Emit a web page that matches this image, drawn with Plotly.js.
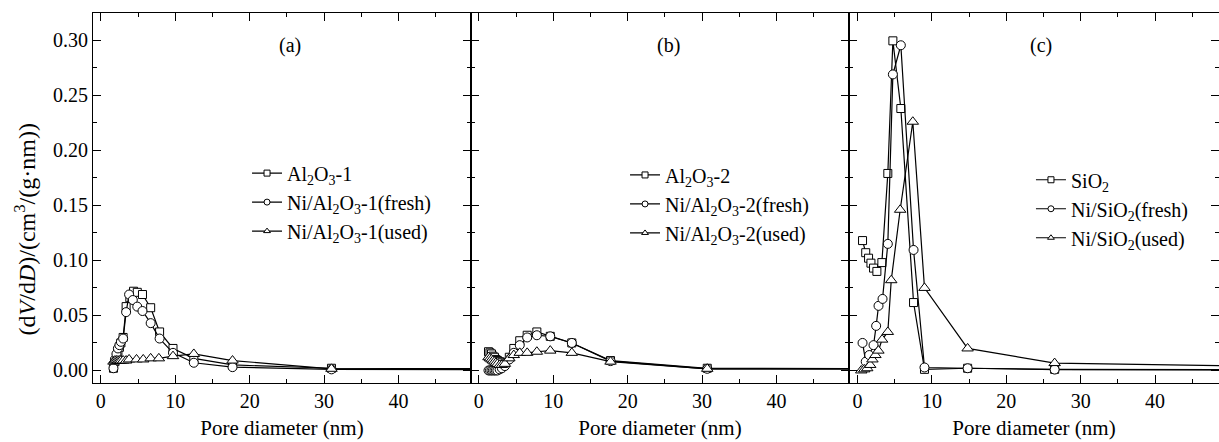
<!DOCTYPE html>
<html><head><meta charset="utf-8">
<script src="https://cdn.plot.ly/plotly-3.0.1.min.js"></script>
<style>
html,body{margin:0;padding:0;background:#fff;}
#chart{width:1219px;height:442px;}
</style>
</head><body><div id="chart"></div>
<script>
// Panel (a)
const aSqX = [1.7,1.9,2.1,2.3,2.5,2.7,3.0,3.4,3.9,4.4,4.9,5.6,6.7,7.9,9.7,12.5,17.7,31.0,80];
const aSqY = [0.002,0.008,0.012,0.017,0.021,0.025,0.030,0.058,0.066,0.072,0.071,0.069,0.057,0.035,0.020,0.011,0.005,0.002,0.001];
const aCiX = [1.7,1.9,2.1,2.3,2.5,2.7,3.0,3.4,3.8,4.3,4.9,5.6,6.7,7.9,9.7,12.5,17.7,31.0,80];
const aCiY = [0.002,0.010,0.015,0.020,0.023,0.026,0.029,0.053,0.069,0.064,0.058,0.054,0.043,0.029,0.016,0.007,0.003,0.001,0.0005];
const aTrX = [1.7,1.9,2.1,2.3,2.5,2.7,3.0,3.4,3.8,4.8,5.7,6.7,7.8,9.7,12.5,17.7,31.0,80];
const aTrY = [0.008,0.009,0.009,0.009,0.009,0.009,0.009,0.009,0.010,0.010,0.010,0.011,0.011,0.013,0.015,0.009,0.0015,0.001];
// Panel (b)
const bX   = [1.3,1.5,1.7,1.9,2.1,2.3,2.5,2.8,3.1,3.5,4.1,4.7,5.5,6.5,7.8,9.6,12.5,17.7,30.7,80];
const bSqY = [0.017,0.016,0.015,0.013,0.012,0.010,0.009,0.008,0.007,0.006,0.012,0.020,0.027,0.032,0.035,0.031,0.025,0.009,0.002,0.001];
const bCiY = [0.000,0.000,0.000,0.000,0.000,0.000,0.000,0.001,0.002,0.004,0.010,0.016,0.023,0.030,0.032,0.031,0.025,0.0085,0.0015,0.001];
const bTrY = [0.012,0.011,0.010,0.009,0.008,0.007,0.006,0.005,0.005,0.006,0.011,0.014,0.016,0.016,0.017,0.018,0.016,0.008,0.0015,0.001];
// Panel (c)
const cSqX = [0.67,1.1,1.48,1.8,2.15,2.6,3.27,4.07,4.75,5.82,7.53,9.0,14.8,26.5,80];
const cSqY = [0.118,0.107,0.102,0.0975,0.093,0.090,0.098,0.179,0.2995,0.238,0.0617,0.001,0.002,0.001,0.0003];
const cCiX = [0.67,1.1,1.57,2.15,2.5,2.82,3.36,4.07,4.75,5.82,7.53,9.0,14.8,26.5,80];
const cCiY = [0.025,0.008,0.014,0.023,0.0405,0.0587,0.065,0.115,0.269,0.2955,0.1095,0.0027,0.002,0.0008,0.0003];
const cTrX = [0.5,0.9,1.3,1.7,2.0,2.4,2.8,3.3,4.07,4.53,5.73,7.43,9.0,14.8,26.5,80];
const cTrY = [0.0,0.001,0.002,0.005,0.010,0.014,0.018,0.028,0.035,0.082,0.146,0.226,0.075,0.020,0.0067,0.001];

const legA = ['Al<sub>2</sub>O<sub>3</sub>-1','Ni/Al<sub>2</sub>O<sub>3</sub>-1(fresh)','Ni/Al<sub>2</sub>O<sub>3</sub>-1(used)'];
const legB = ['Al<sub>2</sub>O<sub>3</sub>-2','Ni/Al<sub>2</sub>O<sub>3</sub>-2(fresh)','Ni/Al<sub>2</sub>O<sub>3</sub>-2(used)'];
const legC = ['SiO<sub>2</sub>','Ni/SiO<sub>2</sub>(fresh)','Ni/SiO<sub>2</sub>(used)'];
const panelLabels = ['(a)','(b)','(c)'];
const xTitle = 'Pore diameter (nm)';
const yTitle = '(d<i>V</i>/d<i>D</i>)/(cm<sup>3</sup>/(g·nm))';

const symbols = ['square','circle','triangle-up'];
const sizes = [8,9,10];
const SERIF = 'Liberation Serif';

function mkTrace(x, y, k, xa, ya) {
  return {x:x, y:y, xaxis:xa, yaxis:ya, type:'scatter', mode:'lines+markers', showlegend:false,
    line:{color:'black', width:1.2},
    marker:{symbol:symbols[k], size:sizes[k], color:'white', line:{color:'black', width:1}}};
}
function mkLeg(name, k, leg, xa, ya) {
  return {x:[null], y:[null], xaxis:xa, yaxis:ya, type:'scatter', mode:'lines+markers', name:name, legend:leg,
    line:{color:'black', width:1.2},
    marker:{symbol:symbols[k], size:6, color:'white', line:{color:'black', width:1}}};
}

const data = [
  mkTrace(aSqX,aSqY,0,'x','y'), mkTrace(aCiX,aCiY,1,'x','y'), mkTrace(aTrX,aTrY,2,'x','y'),
  mkTrace(bX,bSqY,0,'x2','y2'), mkTrace(bX,bCiY,1,'x2','y2'), mkTrace(bX,bTrY,2,'x2','y2'),
  mkTrace(cSqX,cSqY,0,'x3','y3'), mkTrace(cCiX,cCiY,1,'x3','y3'), mkTrace(cTrX,cTrY,2,'x3','y3'),
  mkLeg(legA[0],0,'legend','x','y'), mkLeg(legA[1],1,'legend','x','y'), mkLeg(legA[2],2,'legend','x','y'),
  mkLeg(legB[0],0,'legend2','x2','y2'), mkLeg(legB[1],1,'legend2','x2','y2'), mkLeg(legB[2],2,'legend2','x2','y2'),
  mkLeg(legC[0],0,'legend3','x3','y3'), mkLeg(legC[1],1,'legend3','x3','y3'), mkLeg(legC[2],2,'legend3','x3','y3')
];

function mkX(dom, rng, anchor) {
  return {domain:dom, range:rng, anchor:anchor, showline:true, linecolor:'black', linewidth:1, mirror:'ticks',
    ticks:'inside', ticklen:8, tickwidth:1, tickcolor:'black', dtick:10, tick0:0, showgrid:false, zeroline:false,
    minor:{ticks:'inside', ticklen:4, dtick:5, tick0:0, tickcolor:'black', showgrid:false},
    tickfont:{family:SERIF, size:20, color:'black'},
    title:{text:xTitle, font:{family:SERIF, size:21, color:'black'}, standoff:9}};
}
function mkY(anchor, showLabels) {
  return {domain:[0,1], range:[-0.0114,0.3248], anchor:anchor, showline:true, linecolor:'black', linewidth:1, mirror:'ticks',
    ticks:'inside', ticklen:8, tickwidth:1, tickcolor:'black', dtick:0.05, tick0:0, tickformat:'.2f', showgrid:false, zeroline:false,
    minor:{ticks:'inside', ticklen:4, dtick:0.025, tick0:0, tickcolor:'black', showgrid:false},
    showticklabels:showLabels, tickfont:{family:SERIF, size:20, color:'black'}};
}
function mkLegend(x, y) {
  return {x:x, y:y, xanchor:'left', yanchor:'top', bgcolor:'rgba(0,0,0,0)', borderwidth:0,
    font:{family:SERIF, size:20, color:'black'}, tracegroupgap:0};
}
const d1 = 378/1126, d2 = 756/1126;
const layout = {
  width:1219, height:442, margin:{l:93, r:0, t:13, b:59},
  paper_bgcolor:'white', plot_bgcolor:'white', showlegend:true,
  font:{family:SERIF, color:'black'},
  xaxis: mkX([0,d1], [-1.05,49.75], 'y'),
  xaxis2: mkX([d1,d2], [-1.05,49.75], 'y2'),
  xaxis3: mkX([d2,1], [-1.15,48.6], 'y3'),
  yaxis: mkY('x', true),
  yaxis2: mkY('x2', false),
  yaxis3: mkY('x3', false),
  legend: mkLegend(0.1368, 0.620),
  legend2: mkLegend(0.4725, 0.615),
  legend3: mkLegend(0.833, 0.602),
  annotations: [
    {text:panelLabels[0], xref:'x', yref:'y', x:25.4, y:0.2955, showarrow:false, font:{family:SERIF, size:20, color:'black'}},
    {text:panelLabels[1], xref:'x2', yref:'y2', x:25.5, y:0.2955, showarrow:false, font:{family:SERIF, size:20, color:'black'}},
    {text:panelLabels[2], xref:'x3', yref:'y3', x:24.6, y:0.2955, showarrow:false, font:{family:SERIF, size:20, color:'black'}},
    {text:yTitle, xref:'paper', yref:'paper', x:-0.0604, y:0.415, xanchor:'center', yanchor:'middle', textangle:-90, showarrow:false, font:{family:SERIF, size:24, color:'black'}}
  ]
};
Plotly.newPlot('chart', data, layout, {staticPlot:true});
</script></body></html>
